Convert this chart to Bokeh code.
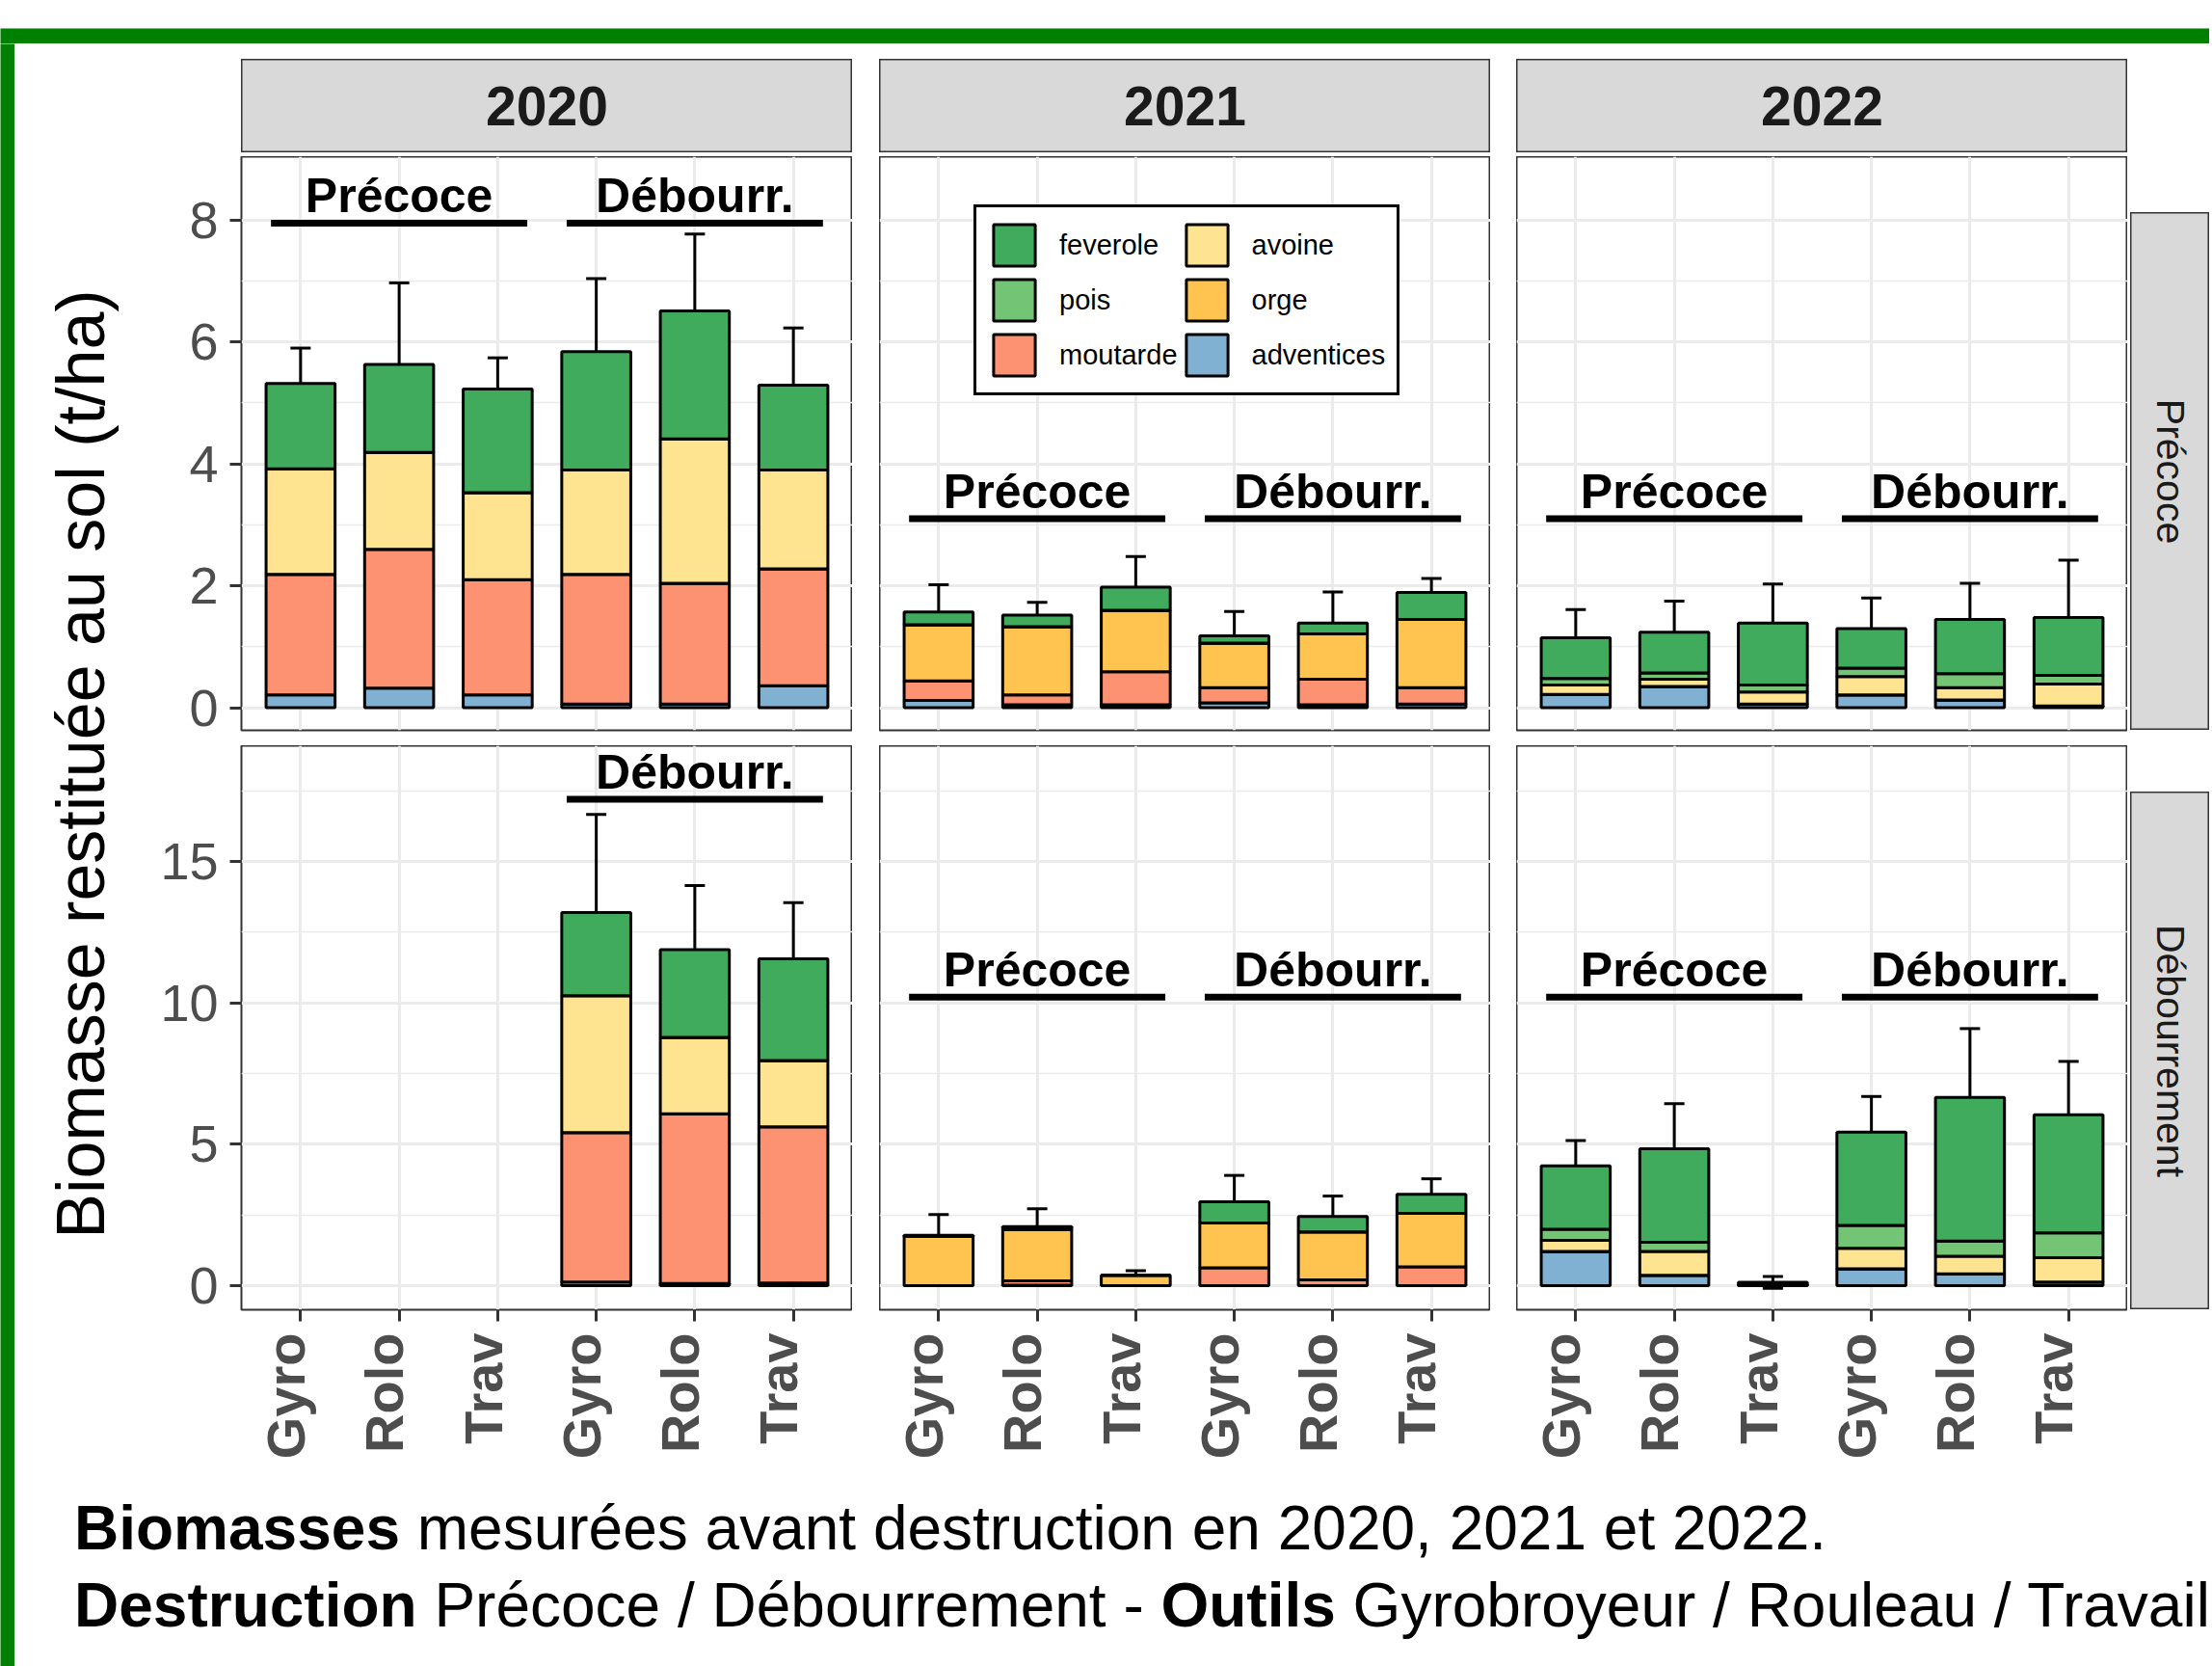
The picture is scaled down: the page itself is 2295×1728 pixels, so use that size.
import numpy as np
from bokeh.plotting import figure
from bokeh.models import (ColumnDataSource, Range1d, FixedTicker, Whisker, TeeHead,
                          Legend, LegendItem, Div, Spacer, LinearAxis)
from bokeh.layouts import row, column
from bokeh.core.properties import value
from bokeh.embed import file_html
from bokeh.resources import INLINE

FONT = "Liberation Sans"
NA = float("nan")

# ---------------- data ----------------
years = ["2020", "2021", "2022"]
destructions = ["Précoce", "Débourrement"]
outils = ["Gyro", "Rolo", "Trav", "Gyro", "Rolo", "Trav"]
positions = [1, 2, 3, 4, 5, 6]
groups = ["Précoce", "Débourr."]
group_centers = [2, 5]
group_starts = [0.7, 3.7]
group_ends = [3.3, 6.3]

species = ["feverole", "pois", "moutarde", "avoine", "orge", "adventices"]
species_colors = ["#41AB5D", "#74C476", "#FC9272", "#FEE391", "#FEC44F", "#80B1D3"]
stack_order = ["adventices", "moutarde", "orge", "avoine", "pois", "feverole"]

# destruction Précoce (top row)
pre_2020 = dict(adventices=[0.21, 0.32, 0.21, 0.06, 0.06, 0.36],
                moutarde=[1.98, 2.28, 1.89, 2.13, 1.98, 1.92],
                orge=[0, 0, 0, 0, 0, 0],
                avoine=[1.73, 1.59, 1.43, 1.71, 2.37, 1.62],
                pois=[0, 0, 0, 0, 0, 0],
                feverole=[1.40, 1.44, 1.70, 1.94, 2.10, 1.39])
sd_pre_2020 = [0.58, 1.34, 0.51, 1.20, 1.26, 0.94]

pre_2021 = dict(adventices=[0.12, 0.05, 0.05, 0.08, 0.05, 0.06],
                moutarde=[0.32, 0.16, 0.54, 0.25, 0.42, 0.27],
                orge=[0.92, 1.12, 1.01, 0.73, 0.74, 1.12],
                avoine=[0, 0, 0, 0, 0, 0],
                pois=[0, 0, 0, 0, 0, 0],
                feverole=[0.21, 0.19, 0.38, 0.12, 0.18, 0.44])
sd_pre_2021 = [0.45, 0.21, 0.50, 0.40, 0.51, 0.23]

pre_2022 = dict(adventices=[0.22, 0.35, 0.06, 0.21, 0.13, 0.03],
                moutarde=[0, 0, 0, 0, 0, 0],
                orge=[0, 0, 0, 0, 0, 0],
                avoine=[0.155, 0.12, 0.20, 0.30, 0.20, 0.36],
                pois=[0.105, 0.10, 0.115, 0.14, 0.23, 0.14],
                feverole=[0.67, 0.67, 1.015, 0.65, 0.89, 0.95])
sd_pre_2022 = [0.46, 0.51, 0.64, 0.50, 0.59, 0.94]

# destruction Débourrement (bottom row)
deb_2020 = dict(adventices=[NA, NA, NA, 0.13, 0.08, 0.10],
                moutarde=[NA, NA, NA, 5.28, 6.00, 5.52],
                orge=[NA, NA, NA, 0, 0, 0],
                avoine=[NA, NA, NA, 4.84, 2.70, 2.34],
                pois=[NA, NA, NA, 0, 0, 0],
                feverole=[NA, NA, NA, 2.94, 3.10, 3.60])
sd_deb_2020 = [NA, NA, NA, 3.47, 2.27, 1.98]

deb_2021 = dict(adventices=[0, 0.02, 0, 0, 0, 0],
                moutarde=[0, 0.15, 0, 0.63, 0.21, 0.67],
                orge=[1.74, 1.83, 0.37, 1.59, 1.69, 1.89],
                avoine=[0, 0, 0, 0, 0, 0],
                pois=[0, 0, 0, 0, 0, 0],
                feverole=[0.04, 0.09, 0, 0.75, 0.55, 0.67])
sd_deb_2021 = [0.74, 0.63, 0.16, 0.93, 0.72, 0.55]

deb_2022 = dict(adventices=[1.21, 0.37, 0.02, 0.60, 0.42, 0.13],
                moutarde=[0, 0, 0, 0, 0, 0],
                orge=[0, 0, 0, 0, 0, 0],
                avoine=[0.39, 0.84, 0.02, 0.72, 0.62, 0.86],
                pois=[0.40, 0.33, 0, 0.81, 0.54, 0.88],
                feverole=[2.24, 3.30, 0.08, 3.30, 5.08, 4.17])
sd_deb_2022 = [0.89, 1.60, 0.21, 1.26, 2.43, 1.89]

panel_data = [[pre_2020, pre_2021, pre_2022], [deb_2020, deb_2021, deb_2022]]
panel_sd = [[sd_pre_2020, sd_pre_2021, sd_pre_2022], [sd_deb_2020, sd_deb_2021, sd_deb_2022]]

anno_y = [[7.95, 3.10, 3.10], [17.2, 10.2, 10.2]]
anno_groups = [[[0, 1], [0, 1], [0, 1]], [[1], [0, 1], [0, 1]]]

y_limits = [(-0.37, 9.04), (-0.85, 19.09)]
y_ticks = [[0, 2, 4, 6, 8], [0, 5, 10, 15]]
y_minor = [[1, 3, 5, 7], [2.5, 7.5, 12.5, 17.5]]

caption_html = ("<b>Biomasses</b> mesurées avant destruction en 2020, 2021 et 2022.<br>"
                "<b>Destruction</b> Précoce / Débourrement - <b>Outils</b> "
                "Gyrobroyeur / Rouleau / Travail")
y_title = "Biomasse restituée au sol (t/ha)"

color_of = dict(zip(species, species_colors))

# ---------------- layout sizes ----------------
FRAME_W = 634
TOP_H = 595
TOP_PAD = 16
BOT_H = 585
LEFT_B = 125
BOTTOM_B = 170
RSTRIP_W = 82
LAB_SHIFT = 0.15   # tick labels sit slightly left of their tick (rotated baseline)


def make_panel(r, c):
    show_y = (c == 0)
    show_x = (r == 1)
    w = FRAME_W + (LEFT_B if show_y else 0)
    bottom_b = BOTTOM_B if show_x else TOP_PAD
    h = (TOP_H if r == 0 else BOT_H) + bottom_b
    p = figure(width=w, height=h, output_backend="svg", toolbar_location=None,
               x_range=Range1d(0.4, 6.6), y_range=Range1d(*y_limits[r]),
               x_axis_location="below" if show_x else None,
               y_axis_location="left" if show_y else None,
               min_border_left=LEFT_B if show_y else 0, min_border_right=0,
               min_border_top=0, min_border_bottom=bottom_b,
               background_fill_color="white", border_fill_color="white")
    p.outline_line_color = "#333333"
    p.outline_line_width = 2
    p.xgrid.ticker = FixedTicker(ticks=positions)
    p.ygrid.ticker = FixedTicker(ticks=y_ticks[r], minor_ticks=y_minor[r])
    p.grid.grid_line_color = "#EBEBEB"
    p.grid.grid_line_width = 3
    p.ygrid.minor_grid_line_color = "#EBEBEB"
    p.ygrid.minor_grid_line_width = 1.5

    if show_y:
        ax = p.yaxis[0]
        ax.ticker = FixedTicker(ticks=y_ticks[r], minor_ticks=[])
        ax.major_label_text_font = FONT
        ax.major_label_text_font_size = "54px"
        ax.major_label_text_color = "#4D4D4D"
        ax.major_tick_in = 0
        ax.major_tick_out = 12
        ax.major_tick_line_width = 3
        ax.major_tick_line_color = "#333333"
        ax.minor_tick_line_color = None
        ax.axis_line_color = None
        ax.major_label_standoff = 12
    if show_x:
        # tick marks only
        ax = p.xaxis[0]
        ax.ticker = FixedTicker(ticks=positions)
        ax.major_label_overrides = {pos: "" for pos in positions}
        ax.major_label_text_font_size = "1px"
        ax.major_label_standoff = 0
        ax.major_tick_in = 0
        ax.major_tick_out = 12
        ax.major_tick_line_width = 3
        ax.major_tick_line_color = "#333333"
        ax.minor_tick_line_color = None
        ax.axis_line_color = None
        # labels on a slightly shifted scale
        p.extra_x_ranges = {"lab": Range1d(0.4 + LAB_SHIFT, 6.6 + LAB_SHIFT)}
        lab = LinearAxis(x_range_name="lab", ticker=FixedTicker(ticks=positions))
        lab.major_label_overrides = {pos: t for pos, t in zip(positions, outils)}
        lab.major_label_orientation = np.pi / 2
        lab.major_label_text_font = FONT
        lab.major_label_text_font_style = "bold"
        lab.major_label_text_font_size = "56px"
        lab.major_label_text_color = "#4D4D4D"
        lab.major_tick_in = 0
        lab.major_tick_out = 0
        lab.major_tick_line_color = None
        lab.minor_tick_line_color = None
        lab.axis_line_color = None
        lab.major_label_standoff = 12
        p.add_layout(lab, "below")

    d = panel_data[r][c]
    src_dict = {"x": positions}
    for s in stack_order:
        src_dict[s] = d[s]
    src = ColumnDataSource(src_dict)
    rends = p.vbar_stack(stack_order, x="x", width=0.7, source=src,
                         color=[color_of[s] for s in stack_order],
                         line_color="black", line_width=3)
    rmap = dict(zip(stack_order, rends))

    # error bars (mean +/- sd)
    sd = panel_sd[r][c]
    xs, up, lo = [], [], []
    for i, pos in enumerate(positions):
        tot = sum(d[s][i] for s in stack_order)
        if np.isnan(tot) or np.isnan(sd[i]):
            continue
        xs.append(pos)
        up.append(tot + sd[i])
        lo.append(tot - sd[i])
    wsrc = ColumnDataSource(dict(x=xs, upper=up, lower=lo))
    wh = Whisker(source=wsrc, base="x", upper="upper", lower="lower",
                 line_color="black", line_width=3,
                 upper_head=TeeHead(size=21, line_color="black", line_width=3),
                 lower_head=TeeHead(size=21, line_color="black", line_width=3))
    p.add_layout(wh)

    # group annotations
    gi = anno_groups[r][c]
    ya = anno_y[r][c]
    p.segment(x0=[group_starts[g] for g in gi], x1=[group_ends[g] for g in gi],
              y0=[ya] * len(gi), y1=[ya] * len(gi),
              line_color="black", line_width=7, line_cap="butt")
    p.text(x=[group_centers[g] for g in gi], y=[ya] * len(gi), text=[groups[g] for g in gi],
           text_font=value(FONT), text_font_style="bold", text_font_size="50px",
           text_align="center", text_baseline="alphabetic", y_offset=-28,
           text_color="black")
    return p, rmap


def strip_fig(w, h, label, angle, size, bold):
    f = figure(width=w, height=h, output_backend="svg", toolbar_location=None,
               x_range=Range1d(0, 1), y_range=Range1d(0, 1),
               x_axis_location=None, y_axis_location=None,
               min_border_left=0, min_border_right=0, min_border_top=0, min_border_bottom=0,
               background_fill_color="#D9D9D9", border_fill_color="#D9D9D9")
    f.grid.visible = False
    f.outline_line_color = "#333333"
    f.outline_line_width = 2
    f.text(x=[0.5], y=[0.5], text=[label], angle=angle,
           text_font=value(FONT), text_font_style="bold" if bold else "normal",
           text_font_size=size, text_align="center", text_baseline="middle",
           text_color="#1A1A1A")
    return f


def solid_fig(w, h, col):
    f = figure(width=w, height=h, output_backend="svg", toolbar_location=None,
               x_range=Range1d(0, 1), y_range=Range1d(0, 1),
               x_axis_location=None, y_axis_location=None,
               min_border_left=0, min_border_right=0, min_border_top=0, min_border_bottom=0,
               background_fill_color=col, border_fill_color=col)
    f.grid.visible = False
    f.outline_line_color = None
    return f


panels = [[None] * 3 for _ in range(2)]
legend_rmap = None
for r in range(2):
    for c in range(3):
        p, rm = make_panel(r, c)
        panels[r][c] = p
        if r == 0 and c == 1:
            legend_rmap = rm

leg = Legend(items=[LegendItem(label=s, renderers=[legend_rmap[s]]) for s in species],
             location=(98, 347), ncols=2, orientation="vertical",
             glyph_width=54, glyph_height=54, label_standoff=20, spacing=3,
             padding=12, margin=0, border_line_color="black", border_line_width=3,
             border_line_alpha=1.0,
             background_fill_color="white", background_fill_alpha=1.0,
             label_text_font=FONT, label_text_font_size="29px", label_text_color="black")
panels[0][1].add_layout(leg)

strips_top = [strip_fig(FRAME_W, 97, y, 0, "57px", True) for y in years]
strip_right = [strip_fig(RSTRIP_W, 537, d, -np.pi / 2, "41px", False) for d in destructions]

# y title
YT_W = 110
yt = figure(width=YT_W, height=1483, output_backend="svg", toolbar_location=None,
            x_range=Range1d(0, YT_W), y_range=Range1d(0, 1483),
            x_axis_location=None, y_axis_location=None,
            min_border_left=0, min_border_right=0, min_border_top=0, min_border_bottom=0,
            background_fill_color="white", border_fill_color="white")
yt.grid.visible = False
yt.outline_line_color = None
yt.text(x=[68], y=[736], text=[y_title], angle=np.pi / 2, text_font=value(FONT),
        text_font_size="70px", text_align="center", text_baseline="middle", text_color="black")

COL2_W = LEFT_B + FRAME_W + 28 + FRAME_W + 27 + FRAME_W + 3 + RSTRIP_W
strip_row = row(Spacer(width=LEFT_B, height=97), strips_top[0], Spacer(width=28, height=97),
                strips_top[1], Spacer(width=27, height=97), strips_top[2],
                Spacer(width=3 + RSTRIP_W, height=97))
H1 = TOP_H + TOP_PAD
row1 = row(panels[0][0], Spacer(width=28, height=H1), panels[0][1],
           Spacer(width=27, height=H1), panels[0][2], Spacer(width=3, height=H1),
           column(Spacer(width=RSTRIP_W, height=58), strip_right[0],
                  Spacer(width=RSTRIP_W, height=TOP_PAD)))
H2 = BOT_H + BOTTOM_B
row2 = row(panels[1][0], Spacer(width=28, height=H2), panels[1][1],
           Spacer(width=27, height=H2), panels[1][2],
           Spacer(width=3, height=H2),
           column(Spacer(width=RSTRIP_W, height=48), strip_right[1],
                  Spacer(width=RSTRIP_W, height=BOTTOM_B)))
col2 = column(Spacer(width=COL2_W, height=16), strip_row, Spacer(width=COL2_W, height=4),
              row1, row2)

TOTAL_W = 15 + YT_W + COL2_W
caption = Div(text=("<div style=\"font-family:'Liberation Sans',Arial,sans-serif;font-size:64px;"
                    "line-height:80px;padding:12px 0 0 57px;color:#000;white-space:nowrap;\">"
                    + caption_html + "</div>"),
              width=TOTAL_W - 15, height=200)

main = column(row(yt, col2), caption)
body = row(solid_fig(15, 1683, "#008000"), main)
root = column(Spacer(width=TOTAL_W, height=29), solid_fig(TOTAL_W, 16, "#008000"), body)

open("out.html", "w").write(file_html(root, INLINE))
